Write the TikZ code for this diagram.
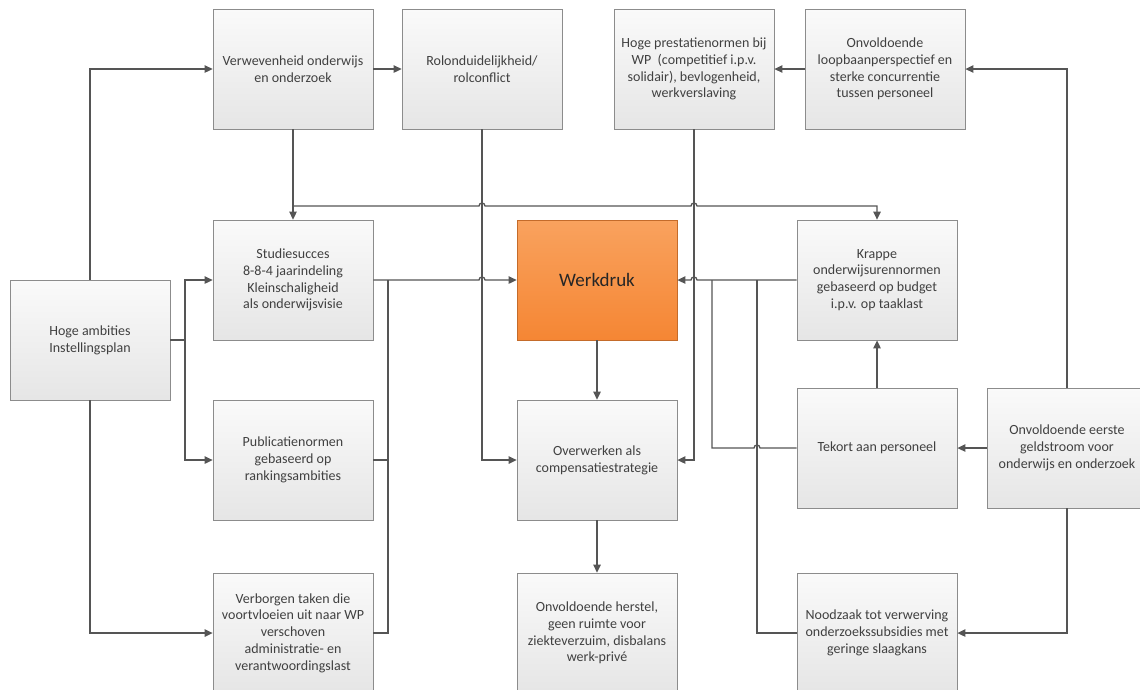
\documentclass[tikz,border=0pt]{standalone}
\usepackage{fontspec}
\setmainfont{Carlito}
\usepackage{xcolor}
\usepackage{tikz}
\usetikzlibrary{arrows.meta,shadows}

\definecolor{linegray}{HTML}{555555}
\definecolor{boxedge}{HTML}{8C8C8C}
\definecolor{orangetop}{HTML}{F9A25E}
\definecolor{orangebot}{HTML}{F58634}

\begin{document}
\begin{tikzpicture}[
    x=1pt,y=-1pt,>={Triangle[length=8pt,width=7.5pt]},
    cause node/.style={draw=boxedge,line width=0.8pt,top color=black!2,bottom color=black!10,
      minimum width=160,minimum height=120,inner sep=2pt,align=center,
      text=black!75,font=\fontsize{14}{16.8}\selectfont,
      drop shadow={shadow xshift=1.2pt,shadow yshift=-1.2pt,opacity=0.22}},
    core node/.style={cause node,draw=orangebot!80!black,top color=orangetop,bottom color=orangebot,
      text=black!85,font=\fontsize{19}{22}\selectfont},
    cause line/.style={line width=1.3pt,draw=linegray},
    cause arrow/.style={cause line,->}
  ]
    \useasboundingbox (0,0) rectangle (1140,689);
    \clip (0,0) rectangle (1140,689);
    % top row
    \node[cause node] (V) at (293,69) {Verwevenheid onderwijs\\en onderzoek};
    \node[cause node] (R) at (482,69) {Rolonduidelijkheid/\\rolconflict};
    \node[cause node] (H) at (694,69) {Hoge prestatienormen bij\\WP~~(competitief i.p.v.\\solidair), bevlogenheid,\\werkverslaving};
    \node[cause node] (L) at (885,69) {Onvoldoende\\loopbaanperspectief en\\sterke concurrentie\\tussen personeel};
    % middle
    \node[cause node] (A) at (90,340) {Hoge ambities\\Instellingsplan};
    \node[cause node] (S) at (293,280) {Studiesucces\\8-8-4 jaarindeling\\Kleinschaligheid\\als onderwijsvisie};
    \node[core node] (W) at (597,280) {Werkdruk};
    \node[cause node] (K) at (877,280) {Krappe\\onderwijsurennormen\\gebaseerd op budget\\i.p.v. op taaklast};
    \node[cause node] (P) at (293,460) {Publicatienormen\\gebaseerd op\\rankingsambities};
    \node[cause node] (O) at (597,460) {Overwerken als\\compensatiestrategie};
    \node[cause node] (T) at (877,448) {Tekort aan personeel};
    \node[cause node] (E) at (1067,448) {Onvoldoende eerste\\geldstroom voor\\onderwijs en onderzoek};
    % bottom row
    \node[cause node] (B) at (293,633) {Verborgen taken die\\voortvloeien uit naar WP\\verschoven\\administratie- en\\verantwoordingslast};
    \node[cause node] (N) at (597,633) {Onvoldoende herstel,\\geen ruimte voor\\ziekteverzuim, disbalans\\werk-privé};
    \node[cause node] (Z) at (877,633) {Noodzaak tot verwerving\\onderzoekssubsidies met\\geringe slaagkans};

    \coordinate (ja) at (185,340);
    \coordinate (jv) at (293,206);
    \coordinate (jl) at (388,280);
    \coordinate (jr) at (712,280);
    \coordinate (jz) at (757,280);

    % left side
    \draw[cause arrow] (A.north) |- (V.west);
    \draw[cause arrow] (A.south) |- (B.west);
    \draw[cause line] (A.east) -- (ja);
    \draw[cause arrow] (ja) |- (S.west);
    \draw[cause arrow] (ja) |- (P.west);
    \draw[cause arrow] (V) -- (R);
    \draw[cause arrow] (V) -- (S);
    \draw[cause arrow] (jv) -- (479,206) arc (180:360:3) -- (691,206) arc (180:360:3) -| (K.north);
    \draw[cause arrow] (S.east) -- (479,280) arc (180:360:3) -- (W.west);
    \draw[cause line] (P.east) -| (jl);
    \draw[cause line] (B.east) -| (jl);
    \draw[cause arrow] (R.south) |- (O.west);
    \draw[cause arrow] (H.south) |- (O.east);

    % right side
    \draw[cause arrow] (L) -- (H);
    \draw[cause arrow] (E.north) |- (L.east);
    \draw[cause arrow] (E) -- (T);
    \draw[cause arrow] (E.south) |- (Z.east);
    \draw[cause arrow] (T) -- (K);
    \draw[cause arrow] (K.west) -- (697,280) arc (0:-180:3) -- (W.east);
    \draw[cause line] (T.west) -- (760,448) arc (0:-180:3) -| (jr);
    \draw[cause line] (Z.west) -| (jz);

    % centre column
    \draw[cause arrow] (W) -- (O);
    \draw[cause arrow] (O) -- (N);
  \end{tikzpicture}
\end{document}
